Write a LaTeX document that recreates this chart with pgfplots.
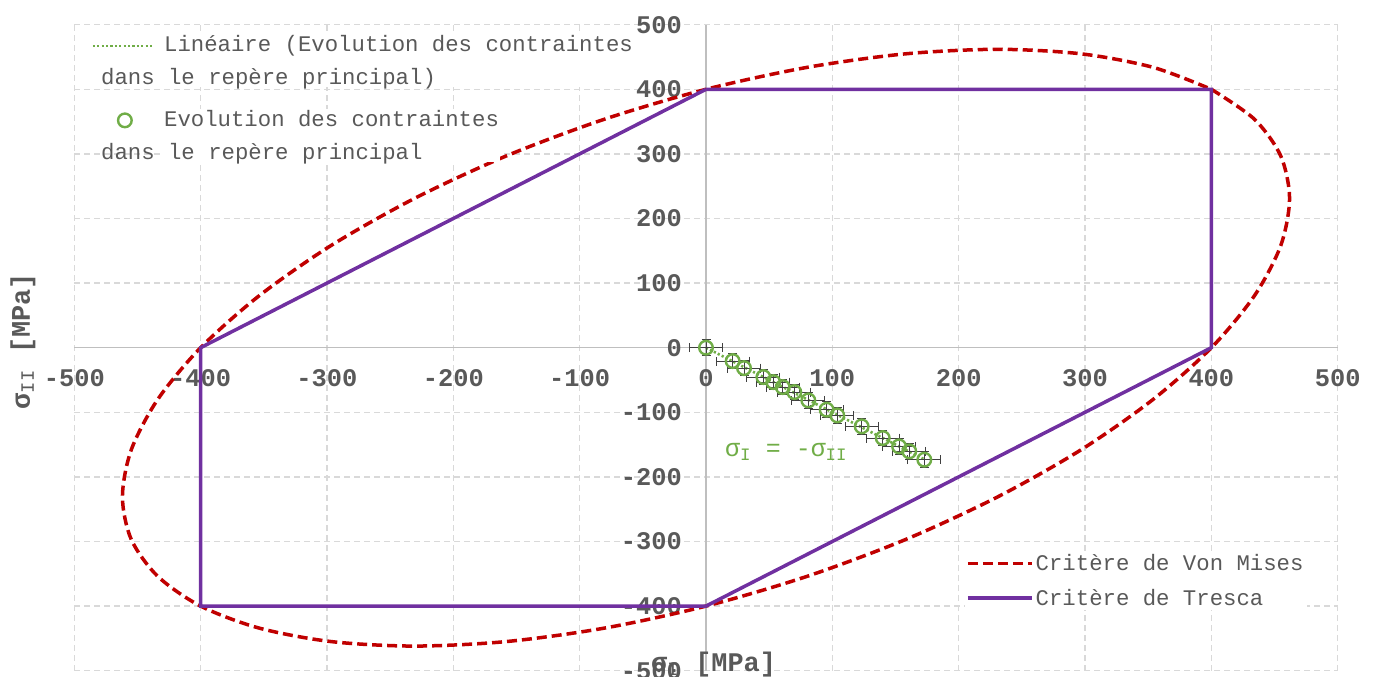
\documentclass[border=0pt]{standalone}
\usepackage{pgfplots}
\pgfplotsset{compat=1.18}
\usepackage{fontspec}
\setmainfont{Liberation Mono}
\setmonofont{Liberation Mono}

\definecolor{vmred}{HTML}{C00000}
\definecolor{trpurple}{HTML}{7030A0}
\definecolor{ptgreen}{HTML}{70AD47}
\definecolor{txtgray}{HTML}{595959}
\definecolor{gridgray}{HTML}{D9D9D9}
\definecolor{axgray}{HTML}{BFBFBF}
\definecolor{barcol}{HTML}{404040}

% measured stress states in the principal frame: sigma_I, sigma_II, errors
\pgfplotstableread{
x      y       ex   ey
0.0    0.0     13   12
21.1   -20.7   13   12
30.1   -31.6   13   12
45.4   -45.5   13   12
53.3   -53.3   13   12
60.7   -61.0   13   12
69.9   -68.7   13   12
81.0   -81.6   13   12
95.5   -96.0   13   12
103.9  -104.8  13   12
123.2  -121.8  13   12
139.9  -139.9  13   12
152.8  -152.8  13   12
160.9  -160.5  13   12
172.8  -173.4  13   12
}\stressdata

\tikzset{ticklab/.style={font=\fontsize{25.5}{30}\selectfont\bfseries, text=txtgray, inner sep=0pt}}

\pgfplotsset{
  common/.style={
    scale only axis,
    width=1263.4bp, height=646bp,
    xmin=-500, xmax=500, ymin=-500, ymax=500,
  },
  lineimg/.style={
    legend image code/.code={\draw[##1] (0bp,0bp) -- (64bp,0bp);}
  },
  % two-line entries: symbol sits beside the first line
  lineimgtop/.style={
    legend image code/.code={\draw[##1] (0bp,15bp) -- (60bp,15bp);}
  },
  markimgtop/.style={
    legend image code/.code={\draw[mark repeat=2, mark phase=2, ##1] plot coordinates {(0bp,15bp) (32bp,15bp) (64bp,15bp)};}
  },
}

\begin{document}
\begin{tikzpicture}
\begin{axis}[
  common,
  name=ax,
  axis lines=middle,
  axis line style={-, axgray, line width=1.5bp},
  xtick={-500,-400,...,500},
  ytick={-500,-400,...,500},
  major tick length=0pt,
  grid=major,
  major grid style={gridgray, line width=1.5bp, dash pattern=on 6bp off 4bp},
  /pgf/number format/assume math mode=true,
  tick label style={ticklab},
  every x tick label/.style={anchor=center, yshift=-30bp},
  every y tick label/.style={anchor=east, xshift=-24bp},
  every axis x label/.style={at={(axis description cs:0.506,0.009)}, anchor=center},
  every axis y label/.style={at={(axis description cs:-0.0406,0.51)}, anchor=center, rotate=90},
  label style={font=\fontsize{27}{30}\selectfont\bfseries, text=txtgray},
  xlabel={σ\textsubscript{\mdseries I} [MPa]},
  ylabel={σ\textsubscript{\mdseries II} [MPa]},
  legend cell align=left,
  legend style={at={(axis description cs:0.705,0.1844)}, anchor=north west,
    draw=none, fill=white, inner sep=1bp, row sep=13bp,
    font=\fontsize{22.4}{30}\selectfont, text=txtgray},
]
% von Mises yield surface, sigma_e = 400 MPa
\addplot[vmred, line width=3.5bp, dash pattern=on 10bp off 5bp, smooth, lineimg] coordinates {
(400,400) (434.0,353.8) (454.9,296.9) (461.9,230.9) (454.9,158.0) (434.0,80.2)
(400,0) (353.8,-80.2) (296.9,-158.0) (230.9,-230.9) (158.0,-296.9) (80.2,-353.8)
(0,-400) (-80.2,-434.0) (-158.0,-454.9) (-230.9,-461.9) (-296.9,-454.9) (-353.8,-434.0)
(-400,-400) (-434.0,-353.8) (-454.9,-296.9) (-461.9,-230.9) (-454.9,-158.0) (-434.0,-80.2)
(-400,0) (-353.8,80.2) (-296.9,158.0) (-230.9,230.9) (-158.0,296.9) (-80.2,353.8)
(0,400) (80.2,434.0) (158.0,454.9) (230.9,461.9) (296.9,454.9) (353.8,434.0) (400,400)
};
\addlegendentry{Critère de Von Mises}
% Tresca hexagon
\addplot[trpurple, line width=3.5bp, lineimg] coordinates {
(0,400) (400,400) (400,0) (0,-400) (-400,-400) (-400,0) (0,400)
};
\addlegendentry{Critère de Tresca}
% origin labels on both axes
\node[ticklab, anchor=center, yshift=-30bp] at (axis cs:0,0) {0};
\node[ticklab, anchor=east, xshift=-24bp] at (axis cs:0,0) {0};
\end{axis}

\begin{axis}[
  common,
  at={(ax.south west)}, anchor=south west,
  hide axis,
  legend cell align=left,
  legend style={at={(axis description cs:0.0135,0.985)}, anchor=north west,
    draw=none, fill=none, inner sep=0bp, row sep=22bp, column sep=9bp,
    nodes={fill=white, inner sep=1bp, align=left},
    font=\fontsize{22.4}{33}\selectfont, text=txtgray},
]
% linear trend of the loading path
\addplot[ptgreen, line width=2.6bp, dash pattern=on 2.2bp off 2.2bp, lineimgtop] coordinates {(0,0) (172.8,-172.8)};
\addlegendentry{Linéaire (Evolution des contraintes\\\hspace*{-63bp}dans le repère principal)}
\addplot[only marks, mark=o, mark size=6.8bp, ptgreen, mark options={line width=2.4bp}, markimgtop,
  error bars/.cd, x dir=both, x explicit, y dir=both, y explicit,
  error bar style={barcol, line width=1bp},
  error mark options={rotate=90, mark size=4.5bp, barcol, line width=1bp}]
  table[x=x, y=y, x error=ex, y error=ey] {\stressdata};
\addlegendentry{Evolution des contraintes\\\hspace*{-63bp}dans le repère principal}
\node[ptgreen, font=\fontsize{25}{28}\selectfont, anchor=center] at (axis cs:63.4,-161.6)
  {σ\textsubscript{I} = -σ\textsubscript{II}};
\end{axis}

\pgfresetboundingbox
\path ([xshift=-74.3bp,yshift=-6.3bp]ax.south west) rectangle ([xshift=36.3bp,yshift=24.7bp]ax.north east);
\end{tikzpicture}
\end{document}
